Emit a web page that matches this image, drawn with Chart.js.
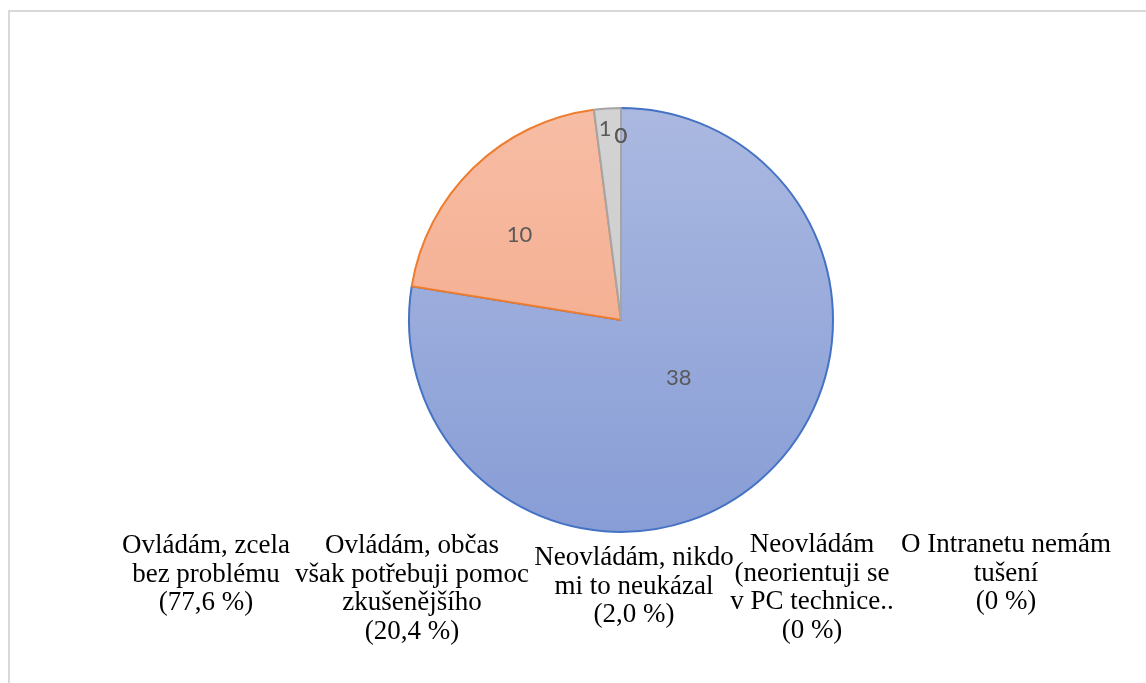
<!DOCTYPE html>
<html lang="cs">
<head>
<meta charset="utf-8">
<title>Ovládání intranetu</title>
<script src="https://cdn.jsdelivr.net/npm/chart.js@4/dist/chart.umd.min.js"></script>
<style>
  html, body { margin: 0; padding: 0; background: #fff; }
  #wrap { width: 1146px; height: 683px; }
</style>
</head>
<body>
<div id="wrap"><canvas id="pie" width="1146" height="683"></canvas></div>
<script>
/* ── Data ── */
const categories = [
  ['Ovládám, zcela', 'bez problému'],
  ['Ovládám, občas', 'však potřebuji pomoc', 'zkušenějšího'],
  ['Neovládám, nikdo', 'mi to neukázal'],
  ['Neovládám', '(neorientuji se', 'v PC technice..'],
  ['O Intranetu nemám', 'tušení']
];
const counts = [38, 10, 1, 0, 0];

/* ── Styles ── */
const FILL_TOP = ['#abb9e1', '#f7bda5', '#d3d3d3', '#ffd966', '#9dc3e6'];
const FILL_BOTTOM = ['#889dd6', '#f3a482', '#cbcbcb', '#ffc000', '#5b9bd5'];
const BORDERS = ['#4472c4', '#ed7d31', '#a5a5a5', '#ffc000', '#6fa8d0'];

// value labels: fraction of the radius, and a small turn (degrees) off the slice middle
const LABEL_RADIUS = [0.385, 0.626, 0.905, 0.87, 0.87];
const LABEL_TURN = [-4.6, -5.8, -1.1, 0, 0];
// category captions under the pie: centre x and first baseline
const CAPTION_X = [206, 412, 634, 812, 1006];
const CAPTION_Y = [553, 553, 565, 552, 552];
const CAPTION_LINE = 28.7;

const total = counts.reduce((a, b) => a + b, 0);
function pct(v) {
  const p = v / total * 100;
  return v === 0 ? '0' : p.toFixed(1).replace('.', ',');
}

/* frame + captions + value labels */
const extras = {
  id: 'extras',
  beforeDraw(chart) {
    const c = chart.ctx;
    c.save();
    c.strokeStyle = '#d9d9d9';
    c.lineWidth = 2;
    c.strokeRect(9, 11, 1400, 900);
    c.restore();
  },
  afterDraw(chart) {
    const c = chart.ctx;
    const arcs = chart.getDatasetMeta(0).data;
    c.save();
    c.fillStyle = '#595959';
    c.font = '22px Lato, "Open Sans", sans-serif';
    c.textAlign = 'center';
    c.textBaseline = 'middle';
    arcs.forEach((arc, i) => {
      const p = arc.getProps(['x', 'y', 'startAngle', 'endAngle', 'outerRadius'], true);
      const mid = (p.startAngle + p.endAngle) / 2 + LABEL_TURN[i] * Math.PI / 180;
      const r = p.outerRadius * LABEL_RADIUS[i];
      c.fillText(String(counts[i]), p.x + Math.cos(mid) * r, p.y + Math.sin(mid) * r);
    });

    c.fillStyle = '#000';
    c.font = '27px "Liberation Serif", "Times New Roman", serif';
    c.textBaseline = 'alphabetic';
    categories.forEach((lines, i) => {
      const all = lines.concat('(' + pct(counts[i]) + ' %)');
      all.forEach((t, k) => c.fillText(t, CAPTION_X[i], CAPTION_Y[i] + k * CAPTION_LINE));
    });
    c.restore();
  }
};

function sliceFill(ctx) {
  const chart = ctx.chart;
  const area = chart.chartArea;
  if (!area) return FILL_TOP[ctx.dataIndex];
  const g = chart.ctx.createLinearGradient(0, area.top, 0, area.bottom);
  g.addColorStop(0, FILL_TOP[ctx.dataIndex]);
  g.addColorStop(1, FILL_BOTTOM[ctx.dataIndex]);
  return g;
}

new Chart(document.getElementById('pie'), {
  type: 'pie',
  data: {
    labels: categories.map(l => l.join(' ')),
    datasets: [{
      data: counts,
      backgroundColor: sliceFill,
      borderColor: BORDERS,
      borderWidth: 2,
      borderAlign: 'center'
    }]
  },
  options: {
    responsive: false,
    animation: false,
    layout: { padding: { top: 107, bottom: 150, left: 321, right: 225 } },
    plugins: {
      legend: { display: false },
      tooltip: { enabled: false }
    }
  },
  plugins: [extras]
});
</script>
</body>
</html>
